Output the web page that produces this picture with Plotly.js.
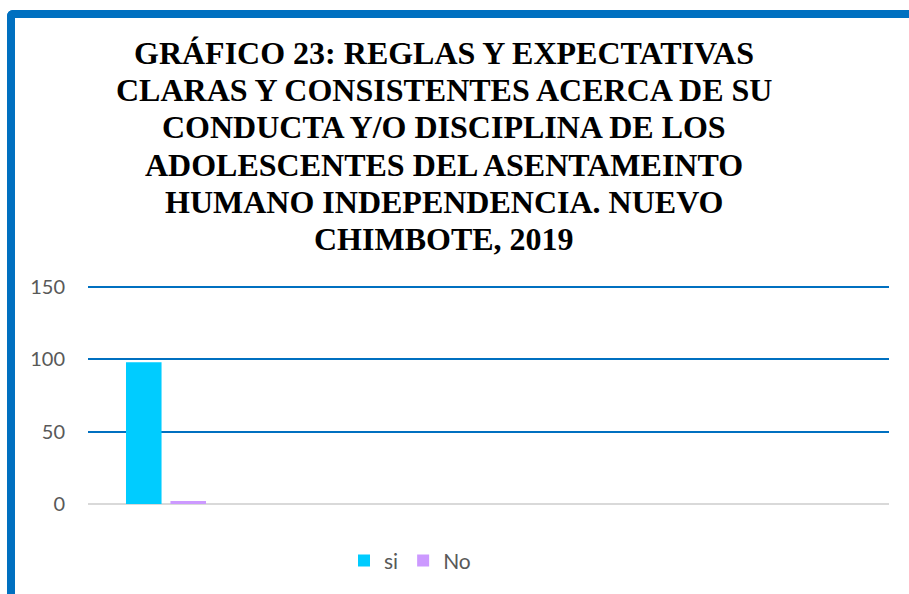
<!DOCTYPE html>
<html>
<head>
<meta charset="utf-8">
<script src="https://cdn.plot.ly/plotly-3.0.1.min.js"></script>
<style>
  html, body { margin: 0; padding: 0; background: #ffffff; }
  #wrap { position: relative; width: 909px; height: 594px; overflow: hidden; background: #fff; }
  #frame { position: absolute; left: 7px; top: 10px; width: 960px; height: 640px;
           border-left: 8px solid #0070C0; border-top: 8px solid #0070C0;
           border-top-left-radius: 6px; box-sizing: border-box; pointer-events: none; z-index: 5; }
  #chart { position: absolute; left: 0; top: 0; width: 909px; height: 594px; }
</style>
</head>
<body>
<div id="wrap">
  <div id="chart"></div>
  <div id="frame"></div>
</div>
<script>
// Data
const categories = [0];
const seriesNames = ["si", "No"];
const siValues = [98];
const noValues = [2];
const yTicks = [0, 50, 100, 150];
const titleLines = [
  "GRÁFICO 23: REGLAS Y EXPECTATIVAS",
  "CLARAS Y CONSISTENTES ACERCA DE SU",
  "CONDUCTA Y/O DISCIPLINA DE LOS",
  "ADOLESCENTES DEL ASENTAMEINTO",
  "HUMANO INDEPENDENCIA. NUEVO",
  "CHIMBOTE, 2019"
];

const traces = [
  { type: "bar", name: seriesNames[0], x: categories, y: siValues,
    marker: { color: "#00CCFF" }, hoverinfo: "skip" },
  { type: "bar", name: seriesNames[1], x: categories, y: noValues,
    marker: { color: "#CC99FF" }, hoverinfo: "skip" }
];

const H = 594;
const titleAnnotations = titleLines.map((line, i) => ({
  text: "<b>" + line + "</b>",
  xref: "paper", yref: "paper",
  x: (444 - 88) / 801, xanchor: "center",
  y: 1 + (284 - (53 + 37.2 * i)) / 220, yanchor: "middle",
  showarrow: false,
  font: { family: "Times New Roman, Liberation Serif, serif", size: 32, color: "#000000" }
}));

const layout = {
  width: 909, height: H,
  paper_bgcolor: "#ffffff", plot_bgcolor: "#ffffff",
  margin: { l: 88, r: 20, t: 284, b: 90 },
  barmode: "group",
  bargap: 0.43,
  bargroupgap: 0.2,
  showlegend: true,
  annotations: titleAnnotations,
  xaxis: {
    type: "linear",
    range: [-0.5, -0.5 + 801 / 156],
    showticklabels: false, showgrid: false, zeroline: false,
    showline: false, ticks: ""
  },
  yaxis: {
    range: [0, 152],
    tickvals: yTicks,
    ticktext: yTicks.map(String),
    showgrid: true, gridcolor: "#0070C0", gridwidth: 2,
    zeroline: true, zerolinecolor: "#D9D9D9", zerolinewidth: 2,
    showline: false, ticks: "",
    ticklabelstandoff: 22,
    tickfont: { family: "Lato, Open Sans, sans-serif", size: 20, color: "#595959" }
  },
  legend: {
    orientation: "h",
    x: 0.402, xanchor: "center",
    y: -0.165, yanchor: "top",
    font: { family: "Lato, Open Sans, sans-serif", size: 21, color: "#595959" },
    itemwidth: 30, traceorder: "normal"
  }
};

Plotly.newPlot("chart", traces, layout, { displayModeBar: false, staticPlot: true });
</script>
</body>
</html>
